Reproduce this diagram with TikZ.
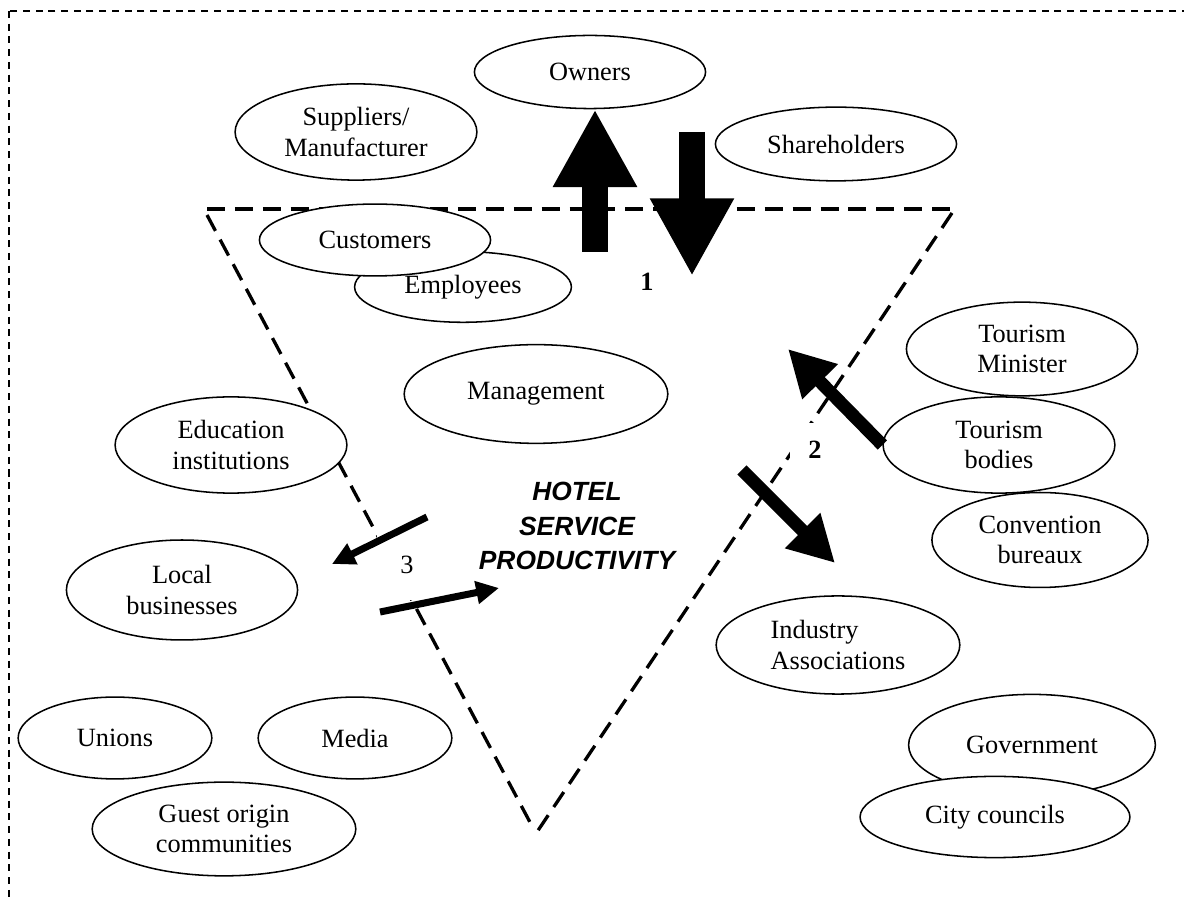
\documentclass[tikz,border=0pt]{standalone}
\usepackage{fontspec}
\setmainfont{Liberation Serif}
\setsansfont{Liberation Sans}
\usetikzlibrary{shapes.geometric,arrows.meta}

\begin{document}
\begin{tikzpicture}[x=0.016cm, y=-0.016cm,
  every node/.style = {font=\fontsize{12}{13.8}\selectfont, align=center},
  ell/.style = {shape=ellipse, draw, fill=white, line width=0.7pt, inner sep=0pt},
  frame/.style = {line width=0.9pt, dash pattern=on 3.2pt off 2.6pt},
  tri/.style = {line width=1.5pt, dash pattern=on 8.2pt off 4.5pt},
  bigarr/.style = {line width=12.2pt, -{Triangle[width=35.8pt, length=35.4pt]}},
  midarr/.style = {line width=5.9pt, -{Triangle[width=21.3pt, length=20.9pt]}},
  smallarr/.style = {line width=3.2pt, -{Triangle[width=10pt, length=10.4pt]}},
  num/.style = {fill=white, inner sep=0pt}]
  \useasboundingbox (0,0) rectangle (1184,898);
  \clip (0,0) rectangle (1184,898);
  \draw[frame] (9,11) rectangle (1230,940);

  \draw[tri] (207,209) -- (954,209);
  \draw[tri] (207,215) -- (532,826);
  \draw[tri] (952,213) -- (537,832);

  \node[ell, minimum width=3.70cm, minimum height=1.17cm] (own) at (590,72) {Owners};
  \node[ell, minimum width=3.87cm, minimum height=1.54cm] (sup) at (356,132) {Suppliers/\\Manufacturer};
  \node[ell, minimum width=3.86cm, minimum height=1.18cm] (sha) at (836,144) {Shareholders};
  \node[ell, minimum width=3.47cm, minimum height=1.13cm] (emp) at (463,287) {Employees};
  \node[ell, minimum width=3.70cm, minimum height=1.15cm] (cus) at (375,240) {Customers};
  \node[ell, minimum width=4.22cm, minimum height=1.58cm] (man) at (536,394) {Management};
  \node[ell, minimum width=3.71cm, minimum height=1.54cm] (edu) at (231,445) {Education\\institutions};
  \node[ell, minimum width=3.70cm, minimum height=1.60cm] (loc) at (182,590) {Local\\businesses};
  \node[ell, minimum width=3.10cm, minimum height=1.31cm] (uni) at (115,738) {Unions};
  \node[ell, minimum width=3.10cm, minimum height=1.31cm] (med) at (355,738) {Media};
  \node[ell, minimum width=4.22cm, minimum height=1.50cm] (gue) at (224,829) {Guest origin\\communities};
  \node[ell, minimum width=3.70cm, minimum height=1.50cm] (tmi) at (1022,349) {Tourism\\Minister};
  \node[ell, minimum width=3.71cm, minimum height=1.54cm] (tbo) at (999,445) {Tourism\\bodies};
  \node[ell, minimum width=3.46cm, minimum height=1.52cm] (con) at (1040,540) {Convention\\bureaux};
  \node[ell, minimum width=3.90cm, minimum height=1.57cm, align=left] (ind) at (838,645) {Industry\\Associations};
  \node[ell, minimum width=3.95cm, minimum height=1.62cm] (gov) at (1032,745) {Government};
  \node[ell, minimum width=4.32cm, minimum height=1.30cm] (cit) at (995,817) {City councils};

  \node[font=\fontsize{12}{15.9}\selectfont\sffamily\bfseries\itshape] (hsp) at (577,526)
    {HOTEL\\SERVICE\\PRODUCTIVITY};

  \node[font=\fontsize{12}{13.8}\selectfont\bfseries] (n1) at (647,282) {1};
  \node[num, minimum width=0.8cm, minimum height=0.88cm,
    font=\fontsize{12}{13.8}\selectfont\bfseries] (n2) at (815,450) {2};
  \node[num, minimum width=0.96cm, minimum height=1.12cm] (n3) at (407,565) {3};

  \coordinate (u1) at (595,252);
  \coordinate (d1) at (692,132);
  \coordinate (d2) at (692,276);
  \coordinate (a2) at (788,349);
  \coordinate (b2s) at (742,470);
  \coordinate (b2e) at (835,563);
  \coordinate (a3s) at (427,517);
  \coordinate (a3e) at (332,564);
  \coordinate (b3s) at (380,612);
  \coordinate (b3e) at (499,588);

  \draw[bigarr] (u1) -- (own.south -| u1);
  \draw[bigarr] (d1) -- (d2);
  \draw[midarr] (tbo.west) -- (a2);
  \draw[midarr] (b2s) -- (b2e);
  \draw[smallarr] (a3s) -- (a3e);
  \draw[smallarr] (b3s) -- (b3e);
\end{tikzpicture}
\end{document}
